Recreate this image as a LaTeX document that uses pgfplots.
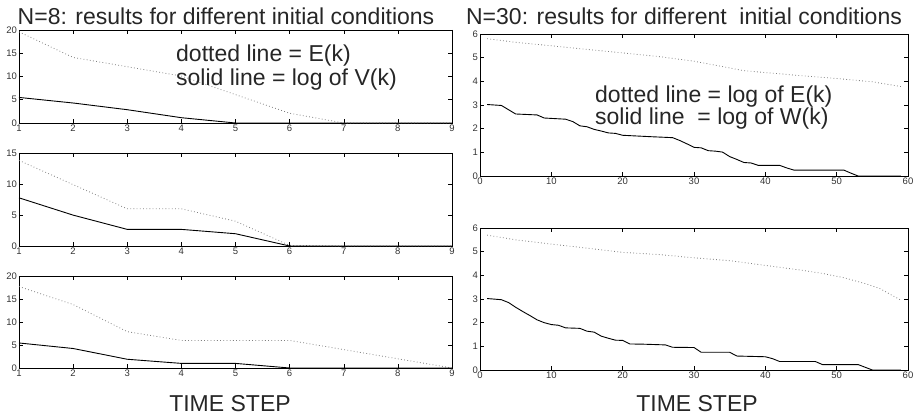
\documentclass[border=0pt]{standalone}
\usepackage{pgfplots}
\pgfplotsset{compat=1.18}
\usepackage{fontspec}
\setmainfont{Liberation Sans}

\pgfplotsset{
  panel/.style={scale only axis, tick pos=both, tick align=inside,
    axis line style={line width=0.9pt}, major tick length=4pt,
    tick style={black, line width=0.5pt},
    /pgf/number format/assume math mode=true,
    ticklabel style={font=\fontsize{9.5}{10}\selectfont, color=black!80},
    xticklabel style={yshift=1.5pt}, yticklabel style={xshift=1.5pt},
    clip=false},
  leftp/.style={panel, width=433pt, xmin=1, xmax=9, xtick={1,...,9}, ymin=0},
  rightp/.style={panel, width=428pt, height=142pt, xmin=0, xmax=60, xtick={0,10,...,60},
    ymin=0, ymax=6, ytick={0,...,6}},
  dotl/.style={gray, line width=0.8pt, dash pattern=on 0.8pt off 2.4pt},
  soll/.style={black, line width=0.9pt},
}

\begin{document}
\begin{tikzpicture}
\path[use as bounding box] (0,0) rectangle (918pt,415pt);

% N=8, top
\begin{axis}[leftp, at={(19pt,292pt)}, anchor=south west, height=93pt, ymax=20, ytick={0,5,...,20}]
\addplot[dotl] coordinates {(1,19.6)(2,14.1)(3,12.1)(4,10.1)(5,6.1)(6,2.1)(7,0)(8,0)(9,0)};
\addplot[soll] coordinates {(1,5.5)(2,4.3)(3,2.86)(4,1.14)(5,0)(6,0)(7,0)(8,0)(9,0)};
\end{axis}

% N=8, middle
\begin{axis}[leftp, at={(19pt,169pt)}, anchor=south west, height=93pt, ymax=15, ytick={0,5,10,15}]
\addplot[dotl] coordinates {(1,13.8)(2,9.9)(3,6.0)(4,6.0)(5,4.0)(6,0.1)(7,0)(8,0)(9,0)};
\addplot[soll] coordinates {(1,7.77)(2,4.98)(3,2.68)(4,2.68)(5,1.98)(6,0)(7,0)(8,0)(9,0)};
\end{axis}

% N=8, bottom
\begin{axis}[leftp, at={(19pt,47pt)}, anchor=south west, height=92pt, ymax=20, ytick={0,5,...,20}]
\addplot[dotl] coordinates {(1,17.7)(2,13.8)(3,7.9)(4,6.0)(5,6.0)(6,6.0)(7,4.0)(8,2.0)(9,0)};
\addplot[soll] coordinates {(1,5.44)(2,4.24)(3,1.9)(4,1.0)(5,1.0)(6,0)(7,0)(8,0)(9,0)};
\end{axis}

% N=30, top
\begin{axis}[rightp, at={(480pt,239pt)}, anchor=south west]
\addplot[dotl] coordinates {(1,5.8)(5,5.65)(10,5.5)(15,5.35)(20,5.2)(25,5.05)(28,4.93)(30,4.85)
  (33,4.68)(37,4.45)(40,4.37)(45,4.24)(50,4.12)(55,3.98)(59,3.78)};
\addplot[soll] coordinates {(1,3.02)(3,2.98)(5,2.62)(8,2.58)(9,2.45)(12,2.40)(13,2.30)(14,2.12)
  (15,2.08)(16,1.97)(17,1.90)(18,1.82)(19,1.80)(20,1.72)(22,1.69)(24,1.66)(27,1.62)(28,1.50)
  (29,1.36)(30,1.21)(31,1.19)(32,1.07)(33,1.05)(34,1.01)(35,0.82)(36,0.70)(37,0.57)(38,0.55)
  (39,0.45)(42,0.45)(43,0.34)(44,0.25)(51,0.25)(52,0.12)(53,0)(59,0)};
\end{axis}

% N=30, bottom
\begin{axis}[rightp, at={(480pt,45pt)}, anchor=south west]
\addplot[dotl] coordinates {(1,5.7)(5,5.5)(10,5.32)(15,5.15)(20,4.97)(25,4.88)(30,4.74)(35,4.62)
  (40,4.42)(45,4.22)(48,4.08)(51,3.9)(54,3.65)(56,3.45)(59,2.95)};
\addplot[soll] coordinates {(1,3.02)(3,2.97)(4,2.85)(5,2.65)(6,2.47)(7,2.3)(8,2.12)(9,2.0)(10,1.92)
  (11,1.89)(12,1.78)(14,1.76)(15,1.64)(16,1.6)(17,1.43)(18,1.34)(19,1.26)(20,1.25)(21,1.1)
  (23,1.09)(26,1.06)(27,0.96)(30,0.95)(31,0.75)(35,0.75)(36,0.59)(40,0.56)(41,0.48)(42,0.36)
  (47,0.36)(48,0.23)(53,0.23)(55,0)(59,0)};
\end{axis}

% titles and notes
\tikzset{txt/.style={font=\fontsize{23}{23}\selectfont, text=black!85, inner sep=0pt}}
\node[txt, anchor=base] at (226pt,390pt) {N=8: results for different initial conditions};
\node[txt, anchor=base] at (684pt,390pt) {N=30: results for different\ \ initial conditions};
\node[txt, anchor=base west] at (176pt,353pt) {dotted line = E(k)};
\node[txt, anchor=base west] at (176pt,329pt) {solid line = log of V(k)};
\node[txt, anchor=base west] at (595pt,312pt) {dotted line = log of E(k)};
\node[txt, anchor=base west] at (595pt,290pt) {solid line\ \ = log of W(k)};
\node[txt, anchor=base] at (230pt,4pt) {TIME STEP};
\node[txt, anchor=base] at (697pt,4pt) {TIME STEP};
\end{tikzpicture}
\end{document}
